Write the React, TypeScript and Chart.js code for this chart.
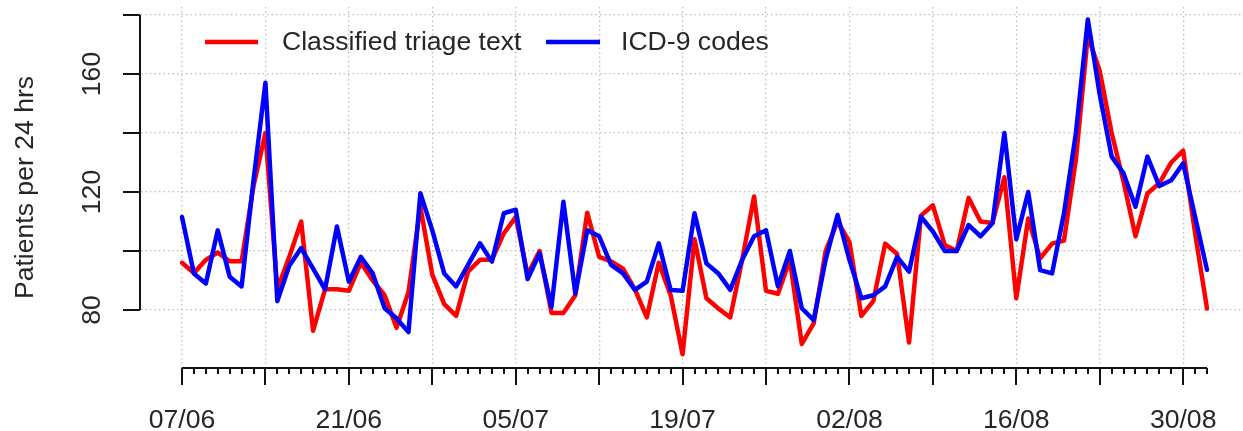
import { useEffect, useRef } from 'react';
import { Chart, registerables } from 'chart.js';

Chart.register(...registerables);

// x positions are day indices counted from 07/06
const gridDays = [0, 7, 14, 21, 28, 35, 42, 49, 56, 63, 70, 77, 84];
const labelDays = [0, 14, 28, 42, 56, 70, 84];
const xTickLabels = ['07/06', '21/06', '05/07', '19/07', '02/08', '16/08', '30/08'];
const yTickValues = [80, 100, 120, 140, 160, 180];
const yTickLabels = ['80', '', '120', '', '160', ''];
const seriesNames = ['Classified triage text', 'ICD-9 codes'];
const yAxisTitle = 'Patients per 24 hrs';

const triage = [
  96, 92.5, 97, 99.5, 96.5, 96.5, 122, 140, 87, 98,
  110, 73, 87, 87, 86.5, 96, 90, 85, 74, 86,
  115, 92, 82, 78, 93, 97, 97, 106, 111.5, 92,
  100, 79, 79, 85, 113, 98, 96.5, 94, 87, 77.5,
  96, 85, 65, 104, 84, 80.5, 77.5, 97, 118.5, 86.5,
  85.5, 97, 68.5, 75.5, 100, 110, 103, 78, 83, 102.5,
  99, 69, 112, 115.5, 102, 100, 118, 110, 109.5, 125,
  84, 111, 97.5, 102.5, 103.5, 131, 173, 161, 140, 123.5,
  105, 119.5, 123, 130, 134, 106, 80.5,
];

const icd9 = [
  111.5, 92.4, 89, 107, 91.3, 88, 124, 157, 83, 95,
  101, 94, 87, 108.3, 89.6, 98, 92.4, 80.6, 77.2, 72.5,
  119.6, 107, 92.4, 88, 95.3, 102.6, 96.4, 112.8, 114, 90.5,
  99.2, 81, 116.7, 85.6, 107, 105, 95.3, 92.4, 86.8, 89.6,
  102.6, 86.8, 86.5, 112.8, 95.8, 92.4, 86.8, 97, 105, 107,
  88, 100, 80.6, 76.6, 97, 112.2, 97, 84, 85, 88,
  98, 93, 111.6, 106.6, 100, 100, 108.8, 105, 109.4, 140,
  104, 120, 93.5, 92.4, 112.8, 140, 178.5, 153, 132, 126.3,
  115, 132, 122, 124, 129.7, 111.6, 93.6,
];

const FONT = '26.6px "Liberation Sans", Arial, Helvetica, sans-serif';
const TEXT = '#262626';
const GRID = '#bdbdbd';

const rAxes = {
  id: 'rAxes',
  afterDraw(chart: any) {
    const { ctx, scales } = chart;
    const x = scales.x;
    const y = scales.y;
    ctx.save();
    ctx.strokeStyle = '#111';
    ctx.lineWidth = 2;
    ctx.lineCap = 'butt';
    ctx.fillStyle = TEXT;
    ctx.font = FONT;

    // y axis
    const ax = 140;
    ctx.beginPath();
    ctx.moveTo(ax, y.getPixelForValue(yTickValues[yTickValues.length - 1]));
    ctx.lineTo(ax, y.getPixelForValue(yTickValues[0]));
    ctx.stroke();
    yTickValues.forEach((v, i) => {
      const py = Math.round(y.getPixelForValue(v));
      ctx.beginPath();
      ctx.moveTo(ax, py);
      ctx.lineTo(ax - 17, py);
      ctx.stroke();
      if (yTickLabels[i]) {
        ctx.save();
        ctx.translate(100, py);
        ctx.rotate(-Math.PI / 2);
        ctx.textAlign = 'center';
        ctx.textBaseline = 'alphabetic';
        ctx.fillText(yTickLabels[i], 0, 0);
        ctx.restore();
      }
    });

    // y title
    ctx.save();
    ctx.translate(33, (chart.chartArea.top + chart.chartArea.bottom) / 2);
    ctx.rotate(-Math.PI / 2);
    ctx.textAlign = 'center';
    ctx.textBaseline = 'alphabetic';
    ctx.fillText(yAxisTitle, 0, 0);
    ctx.restore();

    // x axis
    const ay = 368;
    const lastDay = triage.length - 1;
    ctx.beginPath();
    ctx.moveTo(x.getPixelForValue(0), ay);
    ctx.lineTo(x.getPixelForValue(lastDay), ay);
    ctx.stroke();
    for (let d = 0; d <= lastDay; d++) {
      const px = Math.round(x.getPixelForValue(d));
      const major = d % 7 === 0;
      ctx.beginPath();
      ctx.moveTo(px, ay);
      ctx.lineTo(px, ay + (major ? 17 : 6));
      ctx.stroke();
    }
    ctx.textAlign = 'center';
    ctx.textBaseline = 'alphabetic';
    labelDays.forEach((d, i) => {
      ctx.fillText(xTickLabels[i], x.getPixelForValue(d), 428);
    });

    // legend
    const ly = 42;
    const items = [
      { color: '#ff0000', x0: 205, x1: 258, tx: 282 },
      { color: '#0000ff', x0: 546, x1: 600, tx: 621 },
    ];
    items.forEach((it, i) => {
      ctx.strokeStyle = it.color;
      ctx.lineWidth = 4.5;
      ctx.beginPath();
      ctx.moveTo(it.x0, ly);
      ctx.lineTo(it.x1, ly);
      ctx.stroke();
      ctx.textAlign = 'left';
      ctx.textBaseline = 'middle';
      ctx.fillText(seriesNames[i], it.tx, ly + 1);
    });
    ctx.restore();
  },
};

export default function App() {
  const ref = useRef<HTMLCanvasElement>(null);
  useEffect(() => {
    document.body.style.margin = '0';
    const canvas = ref.current;
    if (!canvas) return;
    const toPoints = (arr: number[]) => arr.map((v, i) => ({ x: i, y: v }));
    const chart = new Chart(canvas, {
      type: 'line',
      data: {
        datasets: [
          {
            label: seriesNames[0],
            data: toPoints(triage),
            borderColor: '#ff0000',
            borderWidth: 4.5,
            pointRadius: 0,
            tension: 0,
            borderJoinStyle: 'round',
            borderCapStyle: 'round',
            order: 2,
          },
          {
            label: seriesNames[1],
            data: toPoints(icd9),
            borderColor: '#0000ff',
            borderWidth: 4.5,
            pointRadius: 0,
            tension: 0,
            borderJoinStyle: 'round',
            borderCapStyle: 'round',
            order: 1,
          },
        ],
      },
      options: {
        animation: false,
        responsive: false,
        devicePixelRatio: 1,
        layout: { padding: { left: 141, top: 7, right: 0, bottom: 63 } },
        plugins: { legend: { display: false }, tooltip: { enabled: false } },
        scales: {
          x: {
            type: 'linear',
            min: -3.44,
            max: 89.02,
            afterBuildTicks: (s: any) => {
              s.ticks = gridDays.map((v) => ({ value: v }));
            },
            afterFit: (s: any) => {
              s.height = 0;
            },
            ticks: { display: false },
            grid: { color: GRID, lineWidth: 1.3, drawTicks: false },
            border: { display: false, dash: [1.5, 3] },
          },
          y: {
            type: 'linear',
            min: 60.339,
            max: 182.71,
            afterBuildTicks: (s: any) => {
              s.ticks = yTickValues.map((v) => ({ value: v }));
            },
            afterFit: (s: any) => {
              s.width = 0;
            },
            ticks: { display: false },
            grid: { color: GRID, lineWidth: 1.3, drawTicks: false },
            border: { display: false, dash: [1.5, 3] },
          },
        },
      },
      plugins: [rAxes],
    } as any);
    return () => chart.destroy();
  }, []);
  return (
    <div style={{ width: 1243, height: 431, background: '#fff' }}>
      <canvas ref={ref} width={1243} height={431} style={{ display: 'block' }} />
    </div>
  );
}
